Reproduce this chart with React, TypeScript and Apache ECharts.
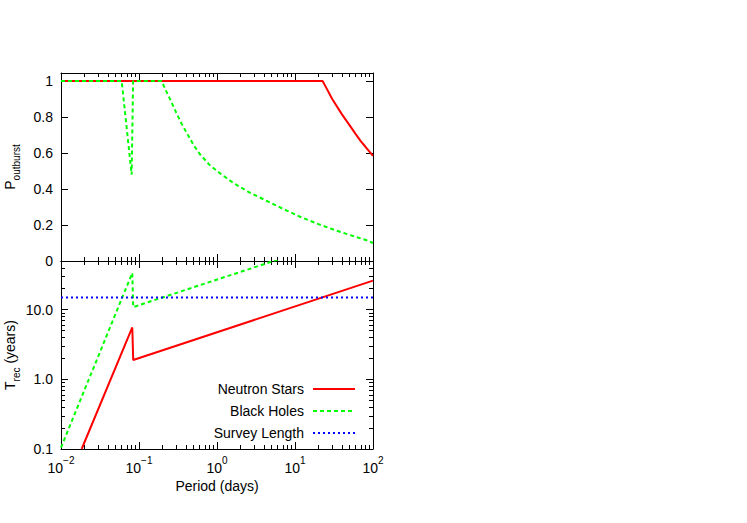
import React, { useEffect, useRef } from 'react';
import * as echarts from 'echarts';

// ---- data ----
const nsOutburst: [number, number][] = [
  [0.01, 1], [22.6, 1], [25, 0.965], [30, 0.9], [40, 0.815], [50, 0.755],
  [60, 0.705], [70, 0.665], [80, 0.635], [90, 0.608], [100, 0.585],
];
const bhOutburst: [number, number][] = [
  [0.01, 1], [0.06, 1], [0.0805, 0.48], [0.084, 1], [0.195, 1], [0.22, 0.95],
  [0.25, 0.9], [0.3, 0.825], [0.35, 0.765], [0.4, 0.72], [0.5, 0.645],
  [0.6, 0.595], [0.8, 0.535], [1, 0.5], [1.6, 0.435], [2.5, 0.385], [4.3, 0.335],
  [7, 0.29], [11.6, 0.246], [20, 0.205], [31, 0.175], [50, 0.145], [83, 0.115],
  [100, 0.1],
];
const nsRecurrence: [number, number][] = [
  [0.0184, 0.1], [0.082, 5.56], [0.0843, 1.9], [100, 26.1],
];
const bhRecurrence: [number, number][] = [
  [0.01, 0.105], [0.082, 33.7], [0.0843, 10.9], [100, 147],
];
const surveyLength: [number, number][] = [[0.01, 15], [100, 15]];

const periodTicks = [0.01, 0.1, 1, 10, 100];
const outburstTicks = [0, 0.2, 0.4, 0.6, 0.8, 1];
const recurrenceTicks = [0.1, 1, 10];
const recurrenceMax = 50;
const outburstMax = 1.045;

const FONT = '"Liberation Sans", Arial, Helvetica, sans-serif';
const RED = '#ff0000';
const GREEN = '#00ff00';
const BLUE = '#0000ff';

const log10 = (v: number) => Math.log10(v);
const minorOf = (decades: number[], max: number) => {
  const out: number[] = [];
  decades.forEach((d) => {
    for (let k = 2; k <= 9; k++) {
      const v = d * k;
      if (v < max - 1e-9) out.push(v);
    }
  });
  return out;
};
const xMinor = minorOf([0.01, 0.1, 1, 10], 100).map(log10);
const xMajor = periodTicks.map(log10);
const yMinor = minorOf([0.1, 1, 10], recurrenceMax).map(log10);
const yMajor = recurrenceTicks.map(log10);

const MAJ = 7;
const MIN = 4;
const axisLine = { show: true, onZero: false, lineStyle: { color: '#000', width: 1 } };
const noLine = { show: false, onZero: false };

function tickAxis(gridIndex: number, position: string, values: number[], len: number, min: number, max: number, extra: any = {}) {
  return {
    type: 'value',
    gridIndex,
    position,
    min,
    max,
    axisLine: extra.axisLine || noLine,
    axisTick: { show: true, inside: true, length: len, customValues: values, lineStyle: { color: '#000', width: 1 } },
    axisLabel: extra.axisLabel || { show: false },
    splitLine: { show: false },
    ...(extra.name ? { name: extra.name, nameLocation: 'middle', nameGap: extra.nameGap, nameRotate: extra.nameRotate, nameTextStyle: extra.nameTextStyle } : {}),
  };
}

const xLabelFormatter = (v: number) => {
  const e = Math.round(v);
  const s = e < 0 ? '\u2212' + (-e) : String(e);
  return `{b|10}{s|${s}}`;
};
const xLabelRich = {
  b: { fontSize: 14, fontFamily: FONT, color: '#000', lineHeight: 20, verticalAlign: 'bottom' },
  s: { fontSize: 10, fontFamily: FONT, color: '#000', lineHeight: 12, verticalAlign: 'top' },
};

function buildXAxes(gridIndex: number, withLabels: boolean) {
  const main = {
    type: 'log',
    gridIndex,
    position: 'bottom',
    min: periodTicks[0],
    max: periodTicks[periodTicks.length - 1],
    axisLine,
    axisTick: { show: false },
    axisLabel: { show: false },
    splitLine: { show: false },
    minorTick: { show: false },
  };
  const bottomMajor = tickAxis(gridIndex, 'bottom', xMajor, MAJ, -2, 2, withLabels ? {
    axisLabel: {
      show: true, customValues: xMajor, margin: 6, formatter: xLabelFormatter, rich: xLabelRich,
    },
    name: 'Period (days)', nameGap: 30, nameRotate: 0,
    nameTextStyle: { fontSize: 14, fontFamily: FONT, color: '#000' },
  } : {});
  const bottomMinor = tickAxis(gridIndex, 'bottom', xMinor, MIN, -2, 2);
  const topMajor = tickAxis(gridIndex, 'top', xMajor, MAJ, -2, 2, { axisLine });
  const topMinor = tickAxis(gridIndex, 'top', xMinor, MIN, -2, 2);
  return [main, bottomMajor, bottomMinor, topMajor, topMinor];
}

export default function App() {
  const ref = useRef<HTMLDivElement>(null);
  useEffect(() => {
    if (!ref.current) return;
    const chart = echarts.init(ref.current, undefined, { renderer: 'svg' });

    const xAxes = [...buildXAxes(0, false), ...buildXAxes(1, true)];
    const nameRich = {
      a: { fontSize: 14, fontFamily: FONT, color: '#000', lineHeight: 18, verticalAlign: 'top' },
      b: { fontSize: 10, fontFamily: FONT, color: '#000', lineHeight: 10, verticalAlign: 'bottom' },
    };
    const yAxes: any[] = [
      // grid 0: outburst probability
      {
        type: 'value', gridIndex: 0, position: 'left', min: 0, max: outburstMax,
        axisLine,
        axisTick: { show: true, inside: true, length: MAJ, customValues: outburstTicks, lineStyle: { color: '#000' } },
        axisLabel: { show: true, customValues: outburstTicks, margin: 8, fontSize: 14, fontFamily: FONT, color: '#000', formatter: (v: number) => String(v) },
        splitLine: { show: false },
        name: '{a|P}{b|outburst}',
        nameLocation: 'middle', nameRotate: 90, nameGap: 40,
        nameTextStyle: { rich: nameRich },
      },
      {
        type: 'value', gridIndex: 0, position: 'right', min: 0, max: outburstMax,
        axisLine,
        axisTick: { show: true, inside: true, length: MAJ, customValues: outburstTicks, lineStyle: { color: '#000' } },
        axisLabel: { show: false },
        splitLine: { show: false },
      },
      // grid 1: recurrence time (log)
      {
        type: 'log', gridIndex: 1, position: 'left', min: recurrenceTicks[0], max: recurrenceMax,
        axisLine,
        axisTick: { show: false },
        axisLabel: { show: false },
        splitLine: { show: false },
        minorTick: { show: false },
      },
      tickAxis(1, 'left', yMajor, MAJ, -1, log10(recurrenceMax), {
        axisLabel: {
          show: true, customValues: yMajor, margin: 8, fontSize: 14, fontFamily: FONT, color: '#000',
          formatter: (v: number) => Math.pow(10, Math.round(v)).toFixed(1),
        },
        name: '{a|T}{b|rec}{a| (years)}', nameGap: 40, nameRotate: 90,
        nameTextStyle: { rich: nameRich },
      }),
      tickAxis(1, 'left', yMinor, MIN, -1, log10(recurrenceMax)),
      tickAxis(1, 'right', yMajor, MAJ, -1, log10(recurrenceMax), { axisLine }),
      tickAxis(1, 'right', yMinor, MIN, -1, log10(recurrenceMax)),
    ];

    const solid = (color: string) => ({ color, width: 2, type: 'solid' as const });
    const dashed = (color: string) => ({ color, width: 2, type: [4, 3] as any });
    const dotted = (color: string) => ({ color, width: 2, type: [2, 3] as any });
    const base = { type: 'line', showSymbol: false, symbol: 'none' };

    const series: any[] = [
      { ...base, name: 'Neutron Stars', xAxisIndex: 0, yAxisIndex: 0, data: nsOutburst, lineStyle: solid(RED), itemStyle: { color: RED }, z: 3 },
      { ...base, name: 'Black Holes', xAxisIndex: 0, yAxisIndex: 0, data: bhOutburst, lineStyle: dashed(GREEN), itemStyle: { color: GREEN }, z: 4 },
      { ...base, name: 'Neutron Stars', xAxisIndex: 5, yAxisIndex: 2, data: nsRecurrence, lineStyle: solid(RED), itemStyle: { color: RED }, z: 3 },
      { ...base, name: 'Black Holes', xAxisIndex: 5, yAxisIndex: 2, data: bhRecurrence, lineStyle: dashed(GREEN), itemStyle: { color: GREEN }, z: 4 },
      { ...base, name: 'Survey Length', xAxisIndex: 5, yAxisIndex: 2, data: surveyLength, lineStyle: dotted(BLUE), itemStyle: { color: BLUE }, z: 5 },
    ];

    chart.setOption({
      animation: false,
      backgroundColor: '#fff',
      textStyle: { fontFamily: FONT },
      grid: [
        { left: 61, width: 312, top: 73, height: 188 },
        { left: 61, width: 312, top: 261, height: 188 },
      ],
      xAxis: xAxes,
      yAxis: yAxes,
      legend: {
        data: ['Neutron Stars', 'Black Holes', 'Survey Length'],
        orient: 'vertical',
        align: 'right',
        right: 391,
        top: 382,
        itemWidth: 42,
        itemHeight: 14,
        itemGap: 8,
        padding: 0,
        selectedMode: false,
        itemStyle: { opacity: 0 },
        textStyle: { fontSize: 14, fontFamily: FONT, color: '#000', lineHeight: 14, padding: [0, 4, 0, 0] },
      },
      series,
    });
    return () => chart.dispose();
  }, []);
  return (
    <div
      ref={ref}
      style={{ position: 'fixed', left: 0, top: 0, width: 747, height: 523, background: '#fff' }}
    />
  );
}
